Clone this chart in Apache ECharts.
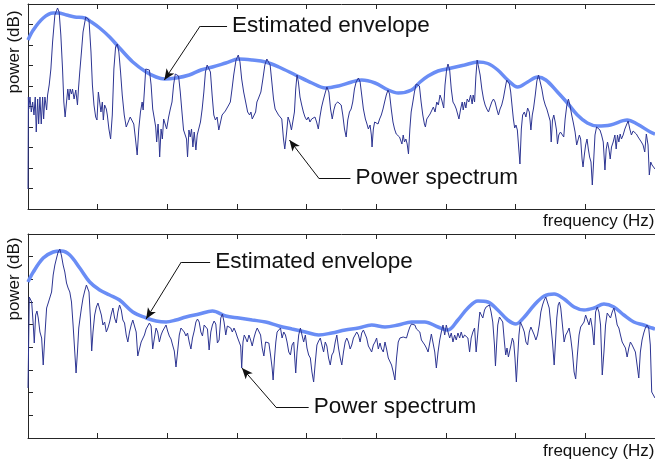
<!DOCTYPE html>
<html>
<head>
<meta charset="utf-8">
<script src="https://cdn.jsdelivr.net/npm/echarts@6/dist/echarts.min.js"></script>
<style>
  html, body { margin: 0; padding: 0; background: #fff; }
  #chart { width: 655px; height: 466px; }
</style>
</head>
<body>
<div id="chart"></div>
<script>
// Two stacked panels: power spectrum (thin) + estimated envelope (thick)
// x = frequency bin, y = level (no tick labels in the original figure)

// ----- Data: top panel -----
const topSpectrum = [
  [0,20],[0.4,112],[0.7,100],[2,112],[3.3,97],[4.7,107],[6,94],[7.3,112],[8.3,77],[9.7,110],
  [10.7,85],[12,112],[13.3,85],[14.7,112],[15.7,90],[17,112],[18.7,99],[19.7,114],[21.3,124],[23,140],
  [24.7,167],[27,194],[29.7,201],[31.3,197],[33,174],[34.7,140],[36,107],[37.3,92],[38.7,107],[40,120],
  [41.3,109],[42.3,120],[43.7,115],[44.7,120],[46.3,110],[48,119],[49.7,104],[50.7,120],[52,137],[53.7,157],
  [55.3,177],[58,192],[59.7,194],[61.3,189],[63.3,157],[64.7,124],[66.3,104],[68,92],[69.3,89],[70.7,117],
  [72,107],[73.3,97],[74.7,107],[75.7,89],[77,104],[78.7,100],[79.7,94],[81.3,80],[83,70],[84.7,94],
  [86.3,140],[88,162],[89.7,165],[91.3,157],[93,137],[94.7,114],[96.7,94],[98.7,82],[100.7,87],[102.7,92],
  [104.3,94],[106.3,85],[108,70],[109.7,54],[111.3,80],[113,97],[114.7,107],[115.7,99],[117,119],[118.3,140],
  [120.3,141],[122,139],[123.7,124],[125.3,100],[127,90],[128.3,82],[129.3,67],[130.7,85],[131.7,67],[132.3,52],
  [133.7,80],[135,70],[136.3,90],[138,92],[139.3,80],[141.3,92],[143,100],[144.7,107],[146.3,124],[148,135],
  [149.7,137],[151.3,133],[153,117],[154.7,97],[156.3,79],[158,80],[159.3,70],[160.3,52],[161.7,79],[163,72],
  [164.3,80],[165.7,62],[167,77],[168.7,59],[170,74],[171.7,75],[173.3,87],[175,100],[176.7,117],[178.3,137],
  [180,144],[181.7,144],[183.3,137],[185,114],[186.7,94],[188.3,89],[190,92],[191.7,79],[193.3,77],[195,94],
  [196.7,92],[198.3,98],[200,99],[201.7,104],[203.3,107],[205,120],[206.7,134],[209,149],[211.3,154],[213,147],
  [214.7,130],[216.7,117],[218.7,107],[220.7,97],[222.7,94],[224,97],[225.3,90],[227,89],[228.7,97],[230,107],
  [231.3,110],[232.7,109],[234,117],[236,130],[238,144],[240,150],[241.7,150],[243.3,144],[245,127],[246.7,110],
  [248.3,100],[250,99],[251.7,94],[253.3,96],[255,90],[256.7,70],[258,60],[259.7,75],[261.3,92],[263,87],
  [264.7,79],[266.3,80],[267.7,97],[269,120],[270.3,134],[271.7,127],[273.3,112],[275,104],[276.7,97],[278.3,92],
  [280,89],[281.7,92],[283.3,87],[285,90],[286.7,89],[288.3,92],[290,87],[291.7,80],[293.3,92],[295,102],
  [296.7,109],[298.3,115],[300.3,122],[302.3,117],[304,100],[305.7,90],[307.3,99],[309,105],[311.3,107],[314.7,104],
  [316.3,94],[318,80],[319.7,72],[321.3,89],[323,97],[324.7,100],[326.3,107],[328,120],[329.7,127],[332,131],
  [333.7,127],[335.3,114],[337,100],[339,90],[340.3,86],[342,80],[343.7,84],[345,74],[345.7,62],[347,80],
  [348.3,87],[350,89],[351.7,85],[353.3,90],[355,94],[356.7,100],[358.3,107],[360,114],[361.7,119],[363.3,115],
  [365,100],[366.7,87],[368.3,80],[370,75],[371.7,74],[373.3,72],[374.7,70],[375.7,65],[377,74],[378.3,67],
  [379.7,70],[381,65],[382.3,55],[383.7,80],[385,97],[386.7,107],[388.3,117],[390,125],[391.7,127],[393.3,123],
  [395,107],[396.7,94],[398.3,85],[399.3,82],[400.7,90],[402.3,90],[404,95],[405.7,97],[407.3,102],[409,97],
  [410.7,107],[412.3,104],[414,114],[415.7,109],[417.7,101],[419,124],[420.7,140],[422,145],[423.7,139],[425.3,120],
  [427,107],[428.7,104],[430.3,100],[433,90],[434.7,100],[436.3,107],[437.3,99],[438.7,107],[440,101],[441.3,110],
  [443,107],[444.7,114],[446.3,105],[447.3,114],[448.7,107],[450,132],[451.3,149],[452.7,148],[454.3,134],[456,120],
  [457.7,110],[459.3,104],[461,100],[462.7,97],[464.3,102],[466,107],[467.7,110],[469.3,107],[471,100],[472.7,94],
  [474.3,100],[476,104],[477.7,111],[479.3,120],[481,129],[482.3,129],[483.7,125],[485,117],[486.3,104],[487.7,90],
  [489,81],[490.3,84],[491.7,79],[493,81],[494.3,45],[495.7,80],[497,94],[498.7,97],[500.3,92],[502,101],
  [503.7,97],[505.3,79],[506.7,94],[508,101],[509.7,114],[511.3,128],[513,134],[514.7,132],[516.3,120],[518,110],
  [519.7,104],[521.3,100],[523,94],[524.7,88],[525.7,67],[527,89],[528.3,94],[529.7,87],[531,79],[532,65],
  [533.3,74],[535,77],[536.7,75],[538.3,72],[539.7,90],[541.3,103],[543,110],[544.7,103],[546.3,94],[548,86],
  [549.7,77],[551.3,64],[552.7,62],[554,74],[555.3,70],[556.7,50],[557.7,42],[559,54],[560.3,64],[561.7,70],
  [563,60],[564.3,52],[565.7,47],[567,24],[568.3,47],[569.7,74],[571.3,82],[573,80],[574.7,79],[576.3,74],
  [578,67],[579.7,39],[581,60],[582.3,67],[583.7,60],[585,50],[586.3,62],[588,67],[589.7,74],[591,60],
  [592.3,74],[593.7,67],[595,75],[596.3,70],[598,74],[599.7,80],[601.3,84],[603,88],[604.7,80],[606.3,74],
  [608,78],[609.7,80],[611.3,75],[613,72],[614.7,70],[616.3,67],[618,64],[619.7,57],[621.3,75],[623,64],
  [624.3,34],[625.7,47],[627,44],[630,40]
];

const topEnvelope = [
  [0,169],[5.3,179],[15.3,191],[25.3,196],[30.3,196],[38.7,194],[47,192],[57,191],[63.7,187],[72,181],
  [82,172],[92,161],[105.3,147],[118.7,137],[128.7,132],[137,130],[148.7,131],[162,134],[173.7,139],[185.3,142],
  [198.7,146],[212,150],[225.3,149],[238.7,147],[252,142],[268.7,134],[285.3,126],[298.7,121],[312,123],[325.3,127],
  [335.3,129],[348.7,126],[362,119],[372,116],[385.3,119],[394,127],[402,133],[412,138],[425.3,141],[438.7,144],
  [452,147],[462,145.5],[472,139],[482,129],[492,122],[502,127],[512,132],[520.3,129],[532,117],[542,106],
  [552,94],[562,86],[572,83],[585.3,84],[602,89],[612,85],[625.3,77],[630,75]
];

// ----- Data: bottom panel -----
const bottomSpectrum = [
  [0,50],[1.3,141],[3.7,136],[5.3,113],[6.3,95],[7.7,123],[9,127],[10.3,120],[12,106],[13.7,100],
  [15.3,73],[17,103],[18.7,130],[20.3,135],[22,137],[23.7,146],[25.3,163],[27,173],[28.7,180],[30.3,186],
  [32,189],[33.7,182],[35.3,173],[37,166],[38.7,155],[40.3,150],[42,146],[43.7,136],[45.3,113],[47,86],
  [48.3,65],[49.7,86],[51,110],[52.3,120],[53.7,130],[55.3,140],[57,147],[58.7,153],[60,155],[61.3,146],
  [62.7,120],[64,87],[65.3,106],[67,123],[68.7,131],[70.3,135],[72,133],[73.7,123],[75.3,113],[77,116],
  [78.7,106],[80.3,110],[82,116],[83.7,124],[85.3,130],[87,120],[88.7,115],[90.3,126],[92,133],[93.7,128],
  [95.3,118],[97,115],[98.7,103],[100.3,96],[102,106],[103.7,113],[105.3,118],[107,116],[108.7,106],[110.3,82],
  [112,89],[113.7,96],[115.3,95],[117,103],[118.7,109],[120.3,111],[122,115],[123.7,112],[125.3,89],[127,100],
  [128.7,110],[130.3,106],[132,96],[133.7,103],[135.3,107],[137,110],[138.7,113],[140.3,107],[142,102],[143.7,99],
  [145.3,93],[147,87],[148.7,71],[150.3,86],[152,103],[153.7,110],[155.3,111],[157,106],[158.7,102],[160.3,105],
  [162,96],[163.7,89],[165.3,100],[167,107],[168.7,116],[170.3,119],[172,116],[173.7,106],[175.3,102],[177,113],
  [178.7,115],[180.3,109],[182,88],[183.7,106],[185.3,113],[187,117],[188.7,114],[190.3,95],[192,98],[193.7,120],
  [195.3,124],[197,116],[198.7,103],[200.3,112],[202,114],[203.7,110],[205.3,106],[207,110],[208.7,106],[210.3,101],
  [212,99],[213.7,92],[214.7,70],[216,96],[217.3,103],[218.7,100],[220.3,96],[222,103],[223.7,98],[225.3,92],
  [227,100],[228.7,106],[230.3,110],[232,111],[233.7,103],[235.3,90],[237,82],[238.7,96],[240.3,98],[242,95],
  [243.7,83],[245.3,70],[246.3,58],[247.7,80],[249,96],[250.3,106],[252,108],[253.7,110],[255.3,100],[257,106],
  [258.7,103],[260.3,96],[262,86],[263.7,83],[265.3,93],[267,96],[268,80],[269,65],[270.3,86],[272,103],
  [273.7,110],[275.3,103],[277,96],[278.7,103],[280.3,90],[282,83],[283.7,80],[285.3,66],[287,56],[288.7,76],
  [290.3,93],[292,97],[293.7,100],[295.3,93],[297,86],[298.7,96],[300.3,92],[302,80],[303.7,73],[305.3,83],
  [307,86],[308.7,96],[310.3,103],[312,90],[313.7,80],[315.3,73],[317,86],[318.7,96],[320.3,100],[322,96],
  [323.7,89],[325.3,93],[327,100],[328.7,103],[330.3,106],[332,103],[333.7,96],[335.3,105],[337,108],[338.7,110],
  [340.3,100],[342,92],[343.7,89],[345.3,86],[347,93],[348.7,96],[350.3,100],[352,89],[353.7,95],[355.3,89],
  [357,86],[358.7,96],[360.3,89],[362,80],[363.7,78],[365.3,73],[367,66],[368.7,58],[370.3,80],[372,96],
  [373.7,100],[375.3,98],[377,101],[378.7,103],[380.3,100],[382,106],[383.7,111],[385.3,114],[387,115],[388.7,113],
  [390.3,109],[392,111],[393.7,106],[395.3,98],[397,96],[398.7,93],[400.3,90],[402,86],[403.7,88],[405.3,104],
  [407,106],[408.7,86],[410.3,70],[412,86],[413.7,98],[415.3,106],[417,113],[418.7,103],[420.3,113],[422,106],
  [423.7,100],[425.3,105],[427,96],[428.7,103],[430.3,98],[432,105],[433.7,100],[435.3,106],[437,100],[438.7,103],
  [440.3,105],[442,100],[443.7,86],[445.3,100],[447,106],[448.7,110],[450.3,86],[451.3,85],[452.7,113],[454,126],
  [455.3,126],[457,120],[458.7,128],[460.3,131],[462,130],[463.7,133],[465.3,126],[467,116],[468.7,93],[469.7,72],
  [471,96],[472,113],[473.7,121],[475.3,123],[477,116],[478.7,96],[480,83],[481.3,90],[482.7,81],[484,80],
  [485.3,93],[486.7,100],[488,96],[489.3,80],[490.7,56],[492,80],[493.3,103],[494.7,116],[496,115],[497.3,110],
  [498.7,106],[500.3,96],[502,93],[503.7,106],[505.3,111],[507,110],[508.7,103],[510.3,98],[512,103],[513.7,113],
  [515.3,126],[517,133],[518.7,138],[520.3,141],[522,140],[523.7,130],[525.3,113],[527,96],[528.7,73],[530,96],
  [531.3,120],[532.7,133],[534,136],[535.3,130],[537,113],[538.7,96],[540.3,103],[542,106],[543.7,110],[545.3,100],
  [547,86],[548.7,66],[550.3,59],[552,83],[553.7,103],[555.3,111],[557,110],[558.7,116],[560.3,123],[562,118],
  [563.7,113],[565.3,120],[567,110],[568.7,93],[570.3,126],[572,131],[573.7,126],[575.3,113],[577,63],[578.7,86],
  [580.3,113],[582,125],[583.7,123],[585.3,120],[587,126],[588.7,130],[590.3,123],[592,113],[593.7,110],[595.3,103],
  [597,96],[598.7,95],[600.3,90],[602,81],[603.7,90],[605.3,96],[607,93],[608.7,91],[610.3,86],[612,73],
  [613.7,60],[615.3,86],[617,98],[618.7,105],[620.3,110],[622,113],[623.7,110],[625.3,93],[626.7,46],[630,40]
];

const bottomEnvelope = [
  [0,156],[5.3,166],[15.3,180],[25.3,186],[33.7,187],[42,183],[52,170],[62,156],[72,148],[82,143],
  [92,138],[105.3,126],[118.7,120],[128.7,117],[138.7,116],[148.7,118],[158.7,121],[172,124],[185.3,127],[198.7,122],
  [212,120],[225.3,118],[238.7,116],[252,112],[265.3,109],[278.7,106],[292,103],[305.3,105],[318.7,108],[332,110],
  [345.3,113],[358.7,111],[372,113],[385.3,116],[398.7,116],[412,111],[422,108],[432,118],[442,130],[452,137],
  [462,136],[472,128],[482,118],[490.3,114],[498.7,121],[508.7,133],[518.7,142],[528.7,144],[538.7,139],[548.7,131],
  [558.7,128],[568.7,130],[578.7,134],[588.7,131],[598.7,123],[608.7,116],[618.7,113],[627,110],[630,109]
];

// ----- Annotations (data coords): arrow tip, elbow, end of leader -----
const topNotes = [
  { text: 'Estimated envelope', tip: [137, 129], elbow: [173, 183], end: [200, 183] },
  { text: 'Power spectrum', tip: [262.7, 69], elbow: [292, 31], end: [324, 31] }
];
const bottomNotes = [
  { text: 'Estimated envelope', tip: [118.7, 119], elbow: [154, 176], end: [183, 176] },
  { text: 'Power spectrum', tip: [215, 70], elbow: [249, 31], end: [282, 31] }
];

const axisLabels = { y: 'power (dB)', x: 'frequency (Hz)' };

// ----- Style -----
const FONT = '"Liberation Sans", Arial, Helvetica, sans-serif';
const AXIS_COLOR = '#262626';
const SPEC_COLOR = '#2d3592';
const ENV_COLOR = '#6a8df5';

const chart = echarts.init(document.getElementById('chart'), null, { renderer: 'canvas' });

function frameAxis(gridIndex, position) {
  return {
    gridIndex,
    type: 'value',
    position,
    min: 0,
    max: 630,
    interval: 70,
    axisLine: { show: true, onZero: false, lineStyle: { color: AXIS_COLOR, width: 1 } },
    axisTick: { show: true, inside: true, length: 5, lineStyle: { color: AXIS_COLOR } },
    axisLabel: { show: false },
    splitLine: { show: false }
  };
}

function levelAxis(gridIndex, max, interval) {
  return {
    gridIndex,
    type: 'value',
    min: 0,
    max,
    interval,
    axisLine: { show: true, onZero: false, lineStyle: { color: AXIS_COLOR, width: 1 } },
    axisTick: { show: true, inside: true, length: 5, lineStyle: { color: AXIS_COLOR } },
    axisLabel: { show: false },
    splitLine: { show: false }
  };
}

function noteLines(notes) {
  const out = [];
  notes.forEach(n => {
    out.push([
      { coord: n.elbow, symbol: 'none' },
      { coord: n.tip, symbol: 'arrow', symbolSize: [7, 11] }
    ]);
    out.push([
      { coord: n.elbow, symbol: 'none' },
      {
        coord: n.end,
        symbol: 'none',
        label: {
          show: true,
          position: 'end',
          distance: 5,
          formatter: n.text,
          color: '#111',
          fontSize: 22.5,
          fontFamily: FONT
        }
      }
    ]);
  });
  return out;
}

function envelopeSeries(xi, yi, data) {
  return {
    type: 'line',
    xAxisIndex: xi,
    yAxisIndex: yi,
    data,
    showSymbol: false,
    smooth: 0.35,
    lineStyle: { color: ENV_COLOR, width: 3.5 },
    z: 2
  };
}

function spectrumSeries(xi, yi, data, notes) {
  return {
    type: 'line',
    xAxisIndex: xi,
    yAxisIndex: yi,
    data,
    showSymbol: false,
    lineStyle: { color: SPEC_COLOR, width: 1 },
    z: 3,
    markLine: {
      silent: true,
      animation: false,
      symbol: 'none',
      lineStyle: { color: '#111', width: 1, type: 'solid' },
      label: { show: false },
      emphasis: { disabled: true },
      data: noteLines(notes)
    }
  };
}

function textEl(text, x, y, rotated, align) {
  return {
    type: 'text',
    x, y,
    rotation: rotated ? Math.PI / 2 : 0,
    style: {
      text,
      fill: '#111',
      font: '17px ' + FONT,
      align: align || 'center',
      verticalAlign: 'middle'
    }
  };
}

chart.setOption({
  backgroundColor: '#fff',
  animation: false,
  grid: [
    { left: 28, top: 4, width: 630, height: 205 },
    { left: 28, top: 234, width: 630, height: 204 }
  ],
  xAxis: [
    frameAxis(0, 'bottom'),
    frameAxis(0, 'top'),
    frameAxis(1, 'bottom'),
    frameAxis(1, 'top')
  ],
  yAxis: [
    levelAxis(0, 205, 20.5),
    levelAxis(1, 204, 204 / 9)
  ],
  series: [
    envelopeSeries(0, 0, topEnvelope),
    spectrumSeries(0, 0, topSpectrum, topNotes),
    envelopeSeries(2, 1, bottomEnvelope),
    spectrumSeries(2, 1, bottomSpectrum, bottomNotes)
  ],
  graphic: [
    textEl(axisLabels.y, 14, 52, true),
    textEl(axisLabels.y, 14, 279, true),
    textEl(axisLabels.x, 543, 221, false, 'left'),
    textEl(axisLabels.x, 543, 451, false, 'left')
  ]
});
</script>
</body>
</html>
